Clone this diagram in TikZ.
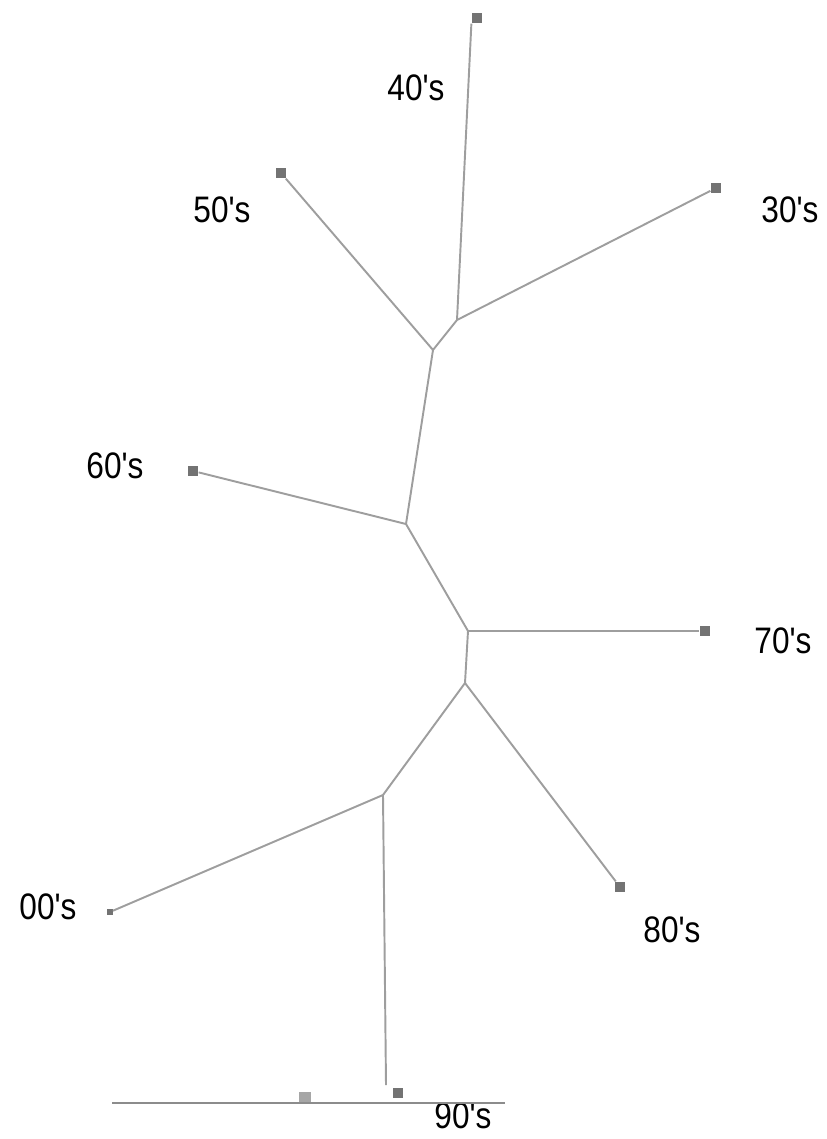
\documentclass[tikz,border=0pt]{standalone}
\usepackage{fontspec}
\setmainfont{Liberation Sans}
\usetikzlibrary{positioning}

\newcommand{\dec}[1]{\scalebox{0.9}[1.05]{#1\textquotesingle s}}

\begin{document}
\begin{tikzpicture}[
        x=0.02cm, y=-0.02cm,
        branch/.style={draw=black!38, line width=1.1pt},
        leaf/.style={rectangle, fill=black!55, inner sep=0pt, minimum size=6pt},
        inner/.style={coordinate},
        decade/.style={font=\fontsize{20}{20}\selectfont, inner sep=0pt}
    ]
    \useasboundingbox (0,0) rectangle (827,1139);

    % Internal nodes
    \node[inner] (a) at (457,320) {};
    \node[inner] (b) at (433,350) {};
    \node[inner] (c) at (406,524) {};
    \node[inner] (d) at (468,631) {};
    \node[inner] (e) at (465,683) {};
    \node[inner] (f) at (383,795) {};

    % Leaves
    \node[leaf] (l40) at (477,18) {};
    \node[leaf] (l30) at (716,188) {};
    \node[leaf] (l50) at (281,173) {};
    \node[leaf] (l60) at (193,471) {};
    \node[leaf] (l70) at (705,631) {};
    \node[leaf] (l80) at (620,887) {};
    \node[leaf, minimum size=3pt] (l00) at (110,912) {};
    \node[leaf] (l90) at (398,1093) {};

    % Labels
    \node[decade] (t40) at (416,88) {\dec{40}};
    \node[decade] (t30) at (790,210) {\dec{30}};
    \node[decade] (t50) at (222,210) {\dec{50}};
    \node[decade] (t60) at (115,466) {\dec{60}};
    \node[decade] (t70) at (783,641) {\dec{70}};
    \node[decade] (t80) at (672,930) {\dec{80}};
    \node[decade] (t00) at (48,907) {\dec{00}};
    \node[decade] (t90) at (463,1116) {\dec{90}};

    % Branches
    \draw[branch] (a) -- (l40.south west);
    \draw[branch] (a) -- (l30);
    \draw[branch] (a) -- (b);
    \draw[branch] (b) -- (l50);
    \draw[branch] (b) -- (c);
    \draw[branch] (c) -- (l60);
    \draw[branch] (c) -- (d);
    \draw[branch] (d) -- (l70);
    \draw[branch] (d) -- (e);
    \draw[branch] (e) -- (l80);
    \draw[branch] (e) -- (f);
    \draw[branch] (f) -- (l00);
    \draw[branch] (f) -- (386,1085);

    % Scale bar
    \coordinate (s1) at (112,1103);
    \coordinate (s2) at (505,1103);
    \draw[branch, draw=black!45] (s1) -- (s2);
    \node[leaf, fill=black!35, minimum width=7pt, minimum height=6pt] (tick) at (305,1097) {};
\end{tikzpicture}
\end{document}
